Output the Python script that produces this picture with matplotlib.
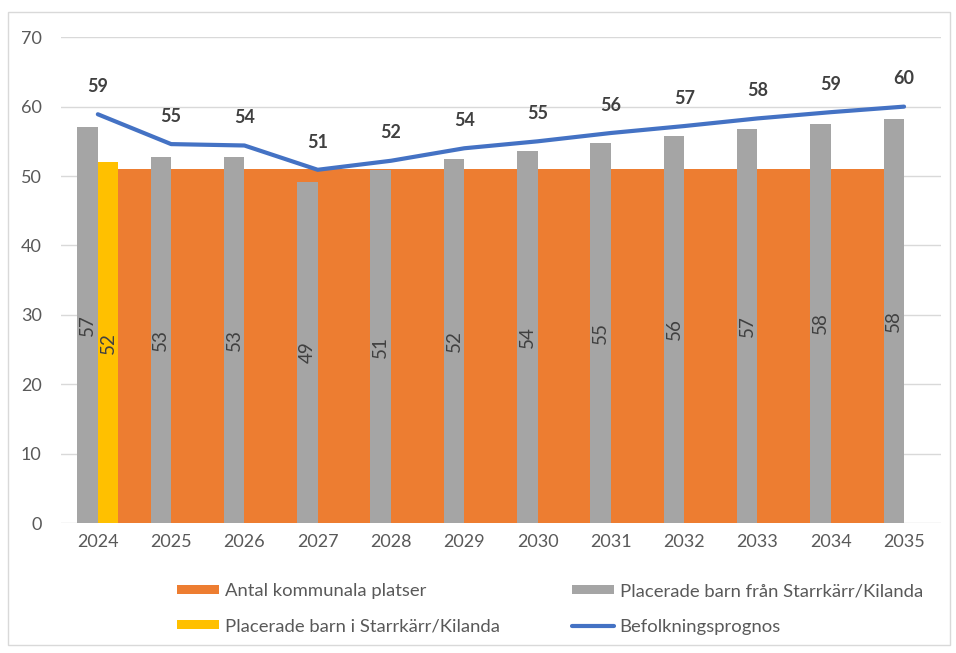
import matplotlib.pyplot as plt
import numpy as np
from matplotlib.patches import Rectangle

years = ["2024", "2025", "2026", "2027", "2028", "2029",
         "2030", "2031", "2032", "2033", "2034", "2035"]
kommunala = [51] * 11          # orange block, 2024 .. 2034 (between bars)
fran = [57.1, 52.8, 52.7, 49.2, 50.8, 52.4, 53.6, 54.8, 55.8, 56.8, 57.5, 58.2]
i_omr = [52.0]                 # only 2024
prognos = [58.9, 54.6, 54.4, 50.9, 52.2, 54.0, 55.0, 56.2, 57.2, 58.3, 59.2, 60.0]

ORANGE = "#ED7D31"
GRAY = "#A5A5A5"
YELLOW = "#FFC000"
BLUE = "#4472C4"
TXT = "#595959"
LBL = "#404040"

plt.rcParams["font.family"] = ["Lato", "DejaVu Sans"]

fig = plt.figure(figsize=(9.56, 6.53), dpi=100)
ax = fig.add_axes([0.064, 0.199, 0.92, 0.744])

x = np.arange(len(years))
bw = 0.28

# orange block drawn behind: from right edge of yellow to left edge of next grey
lefts = x[:-1] + bw
rights = np.minimum(lefts + 1.0, x[-1] - bw)
b_or = ax.bar(lefts, kommunala, width=rights - lefts, align="edge",
              color=ORANGE, zorder=1)
b_gr = ax.bar(x - bw, fran, width=bw, align="edge", color=GRAY, zorder=2)
b_ye = ax.bar(x[:len(i_omr)], i_omr, width=bw, align="edge", color=YELLOW,
              zorder=2)
ln, = ax.plot(x, prognos, color=BLUE, lw=3, zorder=3, solid_capstyle="round")

for xi, v in zip(x, fran):
    ax.text(xi - bw / 2, v / 2, f"{v:.0f}", rotation=90, ha="center",
            va="center", fontsize=13.5, color=LBL, zorder=4)
for xi, v in zip(x[:len(i_omr)], i_omr):
    ax.text(xi + bw / 2, v / 2, f"{v:.0f}", rotation=90, ha="center",
            va="center", fontsize=13.5, color=LBL, zorder=4)
for xi, v in zip(x, prognos):
    ax.annotate(f"{v:.0f}", (xi, v), xytext=(0, 20), textcoords="offset points",
                ha="center", va="center", fontsize=13, fontweight="bold",
                color=LBL, zorder=4)

ax.set_xlim(-0.5, 11.5)
ax.set_ylim(0, 70)
ax.set_yticks(range(0, 71, 10))
ax.set_xticks(x)
ax.set_xticklabels(years)
ax.tick_params(length=0, labelsize=13, colors=TXT, pad=8)
ax.tick_params(axis="y", pad=14)
ax.grid(axis="y", color="#D9D9D9", lw=1, zorder=0)
ax.set_axisbelow(True)
for s in ax.spines.values():
    s.set_visible(False)

handles = [b_or, b_ye, b_gr, ln]
labels = ["Antal kommunala platser", "Placerade barn i Starrkärr/Kilanda",
          "Placerade barn från Starrkärr/Kilanda", "Befolkningsprognos"]
fig.legend(handles, labels, ncol=2, loc="center",
           bbox_to_anchor=(0.575, 0.0674), frameon=False,
           fontsize=13.3, labelcolor=TXT, handlelength=2.3, handleheight=0.38,
           handletextpad=0.3, columnspacing=3.9, labelspacing=1.03)

fig.patches.append(Rectangle((8 / 956, 8 / 653), 942 / 956, 633 / 653,
                             transform=fig.transFigure, fill=False,
                             edgecolor="#D9D9D9", lw=1))

fig.savefig("out.png", dpi=100)
